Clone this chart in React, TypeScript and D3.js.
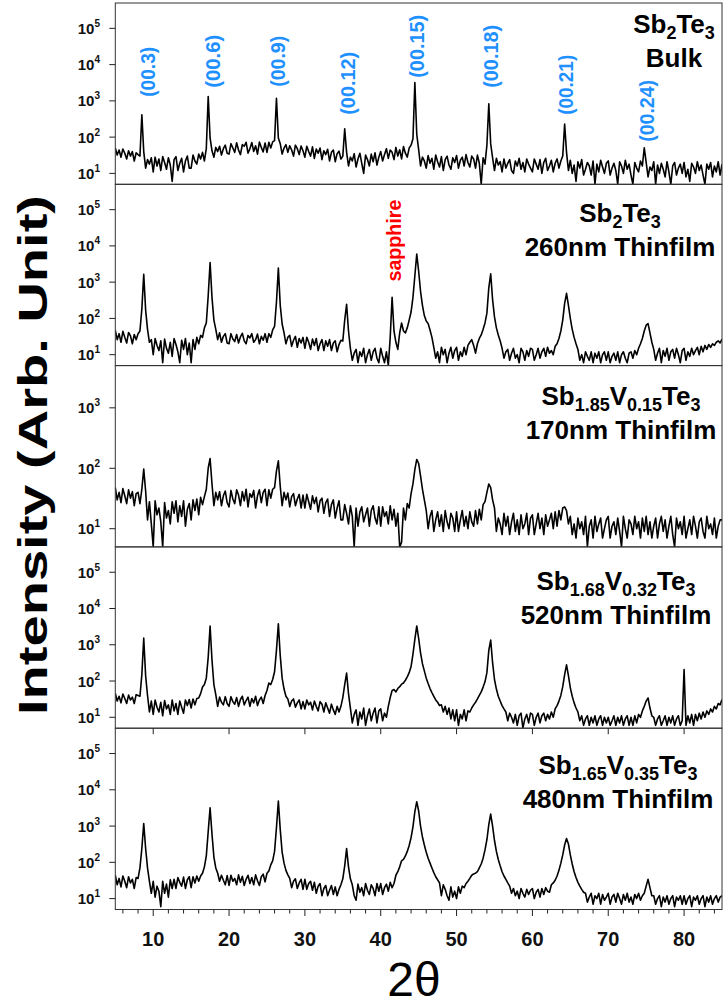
import React from "react";
import * as d3 from "d3";

// 2θ sampling grid (degrees): 5 .. 85 in 0.25 steps
const twoTheta: number[] = d3.range(0, 321).map((i) => 5 + i * 0.25);

// Intensities (counts), one row = 5 degrees.
const bulk: number[] = [
  50, 32, 44, 28, 47, 36, 25, 42, 30, 40, 22, 37, 33, 30, 410, 40, 14, 24, 18, 27,
  11, 28, 16, 25, 12, 29, 20, 13, 27, 17, 6, 24, 29, 12, 19, 26, 11, 22, 30, 14,
  14, 32, 22, 18, 34, 25, 38, 22, 48, 1320, 95, 42, 28, 52, 40, 56, 32, 48, 60, 36,
  34, 66, 50, 38, 70, 44, 33, 62, 56, 72, 36, 48, 71, 40, 58, 34, 73, 52, 39, 69,
  38, 72, 50, 74, 80, 1180, 95, 66, 34, 50, 62, 38, 58, 44, 30, 60, 48, 33, 57, 42,
  28, 56, 40, 30, 54, 26, 47, 36, 50, 24, 42, 33, 46, 22, 38, 44, 21, 35, 41, 25,
  30, 170, 38, 16, 28, 22, 35, 15, 25, 36, 19, 10, 32, 24, 16, 34, 21, 37, 17, 28,
  40, 22, 33, 48, 26, 44, 38, 24, 52, 30, 45, 25, 55, 36, 28, 50, 60, 90, 3200, 120,
  45, 16, 28, 22, 14, 31, 19, 26, 13, 32, 21, 15, 29, 12, 24, 30, 17, 13, 27, 20,
  31, 14, 23, 28, 16, 33, 20, 15, 30, 25, 14, 32, 19, 5, 27, 18, 60, 830, 65, 27,
  12, 26, 17, 21, 11, 25, 14, 19, 24, 12, 10, 22, 16, 26, 13, 20, 11, 25, 18, 14,
  11, 25, 18, 13, 24, 10, 20, 26, 12, 16, 23, 11, 19, 25, 14, 22, 30, 230, 38, 12,
  23, 10, 17, 6, 21, 14, 24, 9, 13, 20, 16, 9, 22, 5, 18, 11, 23, 15, 10, 19,
  22, 9, 14, 19, 12, 5, 21, 16, 10, 23, 13, 18, 9, 5, 20, 14, 11, 22, 16, 51,
  20, 8, 15, 12, 21, 5, 17, 10, 19, 13, 8, 21, 11, 5, 16, 20, 9, 14, 18, 10,
  20, 8, 13, 6, 19, 15, 10, 21, 12, 17, 9, 5, 18, 13, 20, 8, 16, 11, 21, 9,
  18,
];

const film260: number[] = [
  47, 26, 38, 22, 44, 30, 21, 41, 33, 20, 36, 26, 38, 45, 180, 1660, 170, 50, 22, 26,
  10, 28, 18, 13, 24, 6, 27, 15, 11, 22, 9, 28, 19, 12, 6, 25, 14, 28, 10, 21,
  6, 26, 14, 30, 20, 34, 30, 55, 75, 420, 3500, 380, 90, 50, 26, 40, 22, 32, 38, 21,
  20, 38, 27, 23, 36, 21, 31, 39, 24, 20, 34, 29, 38, 22, 26, 37, 20, 32, 25, 38,
  22, 38, 30, 48, 60, 280, 2450, 230, 70, 40, 20, 30, 34, 17, 25, 32, 16, 28, 21, 30,
  15, 30, 22, 14, 27, 18, 28, 13, 20, 26, 13, 24, 17, 26, 13, 21, 24, 12, 19, 25,
  24, 90, 245, 45, 15, 7, 11, 14, 6, 12, 9, 15, 6, 10, 14, 7, 12, 15, 8, 6,
  15, 9, 6, 12, 5, 30, 380, 45, 22, 14, 40, 75, 45, 40, 55, 90, 150, 380, 1500, 6000,
  2000, 560, 230, 120, 85, 72, 48, 30, 16, 8, 12, 6, 16, 10, 14, 6, 11, 16, 8, 13,
  16, 7, 12, 9, 16, 10, 18, 22, 26, 18, 11, 20, 28, 35, 50, 75, 140, 700, 1700, 330,
  110, 55, 35, 24, 15, 8, 12, 14, 7, 11, 15, 8, 10, 6, 15, 12, 7, 13, 9, 15,
  14, 7, 10, 15, 8, 12, 15, 9, 16, 11, 13, 10, 17, 20, 28, 45, 90, 260, 490, 230,
  100, 50, 30, 20, 14, 7, 10, 6, 12, 9, 7, 12, 6, 11, 8, 12, 6, 10, 12, 7,
  12, 6, 9, 11, 7, 12, 6, 10, 12, 8, 6, 11, 12, 8, 13, 10, 15, 20, 28, 45,
  65, 72, 40, 22, 14, 7, 11, 15, 6, 13, 9, 15, 7, 12, 14, 8, 15, 10, 6, 13,
  15, 7, 12, 9, 15, 10, 13, 16, 10, 17, 12, 18, 14, 19, 16, 20, 18, 22, 24, 21,
  27,
];

const v015: number[] = [
  48, 30, 40, 27, 46, 35, 26, 44, 32, 41, 24, 38, 40, 26, 45, 97, 42, 14, 28, 12,
  5, 29, 17, 22, 13, 5, 27, 15, 20, 12, 28, 18, 29, 13, 24, 16, 29, 11, 21, 26,
  14, 30, 20, 31, 17, 33, 25, 34, 45, 100, 145, 55, 24, 40, 30, 41, 24, 35, 42, 27,
  23, 43, 31, 26, 44, 36, 24, 41, 29, 45, 23, 38, 33, 43, 22, 35, 44, 27, 40, 45,
  24, 44, 32, 45, 48, 90, 133, 50, 24, 40, 30, 39, 23, 34, 38, 24, 31, 37, 22, 36,
  22, 37, 28, 21, 35, 26, 33, 19, 29, 32, 18, 27, 31, 16, 25, 30, 15, 22, 29, 14,
  14, 25, 18, 12, 24, 16, 5, 22, 11, 19, 23, 13, 17, 22, 11, 20, 24, 15, 12, 23,
  11, 23, 16, 19, 12, 24, 14, 21, 11, 18, 5, 6, 22, 14, 26, 22, 38, 55, 95, 140,
  120, 75, 45, 30, 20, 10, 16, 20, 9, 14, 19, 11, 17, 9, 20, 13, 10, 18, 15, 9,
  19, 9, 14, 20, 11, 16, 10, 19, 13, 11, 20, 12, 21, 14, 25, 28, 40, 55, 48, 30,
  22, 9, 15, 12, 8, 18, 11, 16, 8, 13, 18, 9, 14, 8, 17, 10, 12, 18, 8, 15,
  17, 8, 12, 18, 10, 15, 8, 17, 11, 14, 18, 10, 19, 11, 20, 14, 22, 23, 20, 12,
  16, 8, 12, 7, 15, 10, 13, 8, 16, 5, 11, 14, 7, 16, 9, 12, 15, 7, 10, 14,
  16, 7, 11, 13, 8, 15, 9, 5, 16, 10, 7, 14, 12, 8, 16, 10, 13, 7, 15, 9,
  16, 8, 13, 7, 11, 15, 7, 12, 16, 9, 14, 7, 11, 16, 8, 5, 15, 10, 13, 8,
  16, 7, 10, 14, 8, 16, 11, 7, 13, 15, 9, 7, 16, 10, 12, 8, 15, 7, 11, 14,
  14,
];

const v032: number[] = [
  46, 28, 38, 25, 44, 33, 24, 41, 30, 36, 24, 42, 40, 38, 150, 1520, 140, 40, 14, 28,
  12, 30, 19, 14, 26, 11, 29, 17, 22, 12, 30, 15, 24, 12, 28, 19, 13, 30, 21, 31,
  18, 32, 22, 33, 34, 45, 68, 80, 120, 450, 3300, 380, 80, 42, 20, 36, 26, 22, 37, 24,
  20, 37, 27, 23, 35, 20, 31, 38, 22, 29, 36, 20, 33, 25, 38, 21, 30, 36, 24, 40,
  55, 88, 80, 110, 180, 700, 3800, 500, 120, 60, 38, 32, 20, 28, 32, 19, 25, 30, 17, 27,
  17, 30, 22, 26, 16, 28, 20, 15, 27, 23, 14, 25, 18, 13, 23, 16, 12, 20, 14, 20,
  35, 80, 165, 45, 18, 7, 12, 16, 6, 14, 9, 18, 6, 11, 17, 8, 13, 18, 7, 15,
  17, 8, 13, 10, 20, 35, 55, 58, 50, 62, 70, 82, 88, 105, 130, 170, 250, 550, 1400, 3300,
  1500, 600, 300, 190, 120, 85, 62, 48, 38, 30, 26, 21, 22, 14, 20, 12, 18, 9, 16, 8,
  16, 6, 12, 9, 16, 8, 15, 14, 18, 22, 26, 32, 40, 50, 68, 95, 170, 700, 1350, 320,
  110, 60, 38, 28, 21, 17, 14, 8, 13, 10, 7, 12, 6, 11, 13, 5, 9, 12, 7, 13,
  12, 6, 10, 13, 7, 11, 13, 8, 12, 9, 14, 10, 17, 21, 28, 40, 70, 150, 280, 140,
  65, 38, 25, 18, 14, 8, 11, 6, 9, 11, 6, 10, 7, 11, 6, 9, 11, 6, 10, 7,
  10, 6, 8, 11, 6, 10, 7, 11, 6, 9, 11, 6, 10, 6, 11, 7, 12, 10, 15, 20,
  28, 34, 18, 11, 10, 6, 9, 11, 6, 8, 11, 6, 10, 7, 11, 6, 9, 11, 6, 8,
  207, 6, 11, 7, 12, 6, 12, 8, 13, 9, 14, 10, 15, 12, 17, 14, 20, 17, 24, 22,
  31,
];

const v035: number[] = [
  44, 24, 36, 21, 42, 30, 20, 40, 27, 34, 19, 38, 36, 70, 240, 1180, 240, 70, 30, 14,
  30, 11, 22, 16, 6, 30, 14, 25, 11, 33, 19, 34, 19, 38, 28, 22, 39, 19, 33, 40,
  20, 40, 27, 42, 30, 42, 50, 75, 150, 700, 3200, 600, 140, 70, 50, 30, 44, 32, 24, 43,
  23, 44, 30, 36, 24, 45, 28, 41, 23, 34, 44, 26, 38, 24, 45, 31, 23, 40, 47, 29,
  50, 58, 85, 110, 200, 900, 4900, 800, 190, 95, 60, 45, 36, 20, 30, 35, 19, 27, 34, 18,
  34, 18, 26, 30, 17, 28, 14, 22, 26, 12, 19, 23, 12, 17, 23, 13, 21, 12, 18, 24,
  35, 80, 240, 75, 35, 24, 12, 9, 25, 15, 20, 12, 26, 17, 13, 24, 19, 12, 26, 16,
  26, 13, 20, 25, 16, 28, 20, 26, 44, 55, 75, 110, 120, 150, 200, 290, 480, 950, 2500, 4700,
  2600, 1000, 500, 300, 190, 130, 95, 70, 52, 40, 33, 27, 12, 24, 18, 12, 9, 21, 11, 16,
  10, 21, 14, 22, 20, 26, 30, 36, 44, 48, 50, 55, 70, 90, 130, 220, 420, 1100, 2150, 1000,
  400, 200, 120, 80, 55, 42, 34, 27, 22, 14, 19, 12, 16, 10, 19, 14, 11, 18, 13, 17,
  19, 10, 15, 18, 11, 19, 13, 20, 16, 15, 24, 27, 32, 42, 60, 95, 160, 300, 455, 320,
  160, 90, 55, 38, 28, 22, 18, 15, 14, 8, 11, 14, 7, 12, 10, 14, 7, 13, 9, 11,
  14, 7, 11, 13, 8, 14, 10, 7, 13, 9, 14, 8, 11, 7, 13, 10, 14, 9, 12, 14,
  22, 34, 20, 12, 12, 7, 10, 12, 6, 11, 8, 12, 7, 10, 12, 6, 11, 9, 12, 7,
  12, 7, 10, 12, 6, 11, 9, 12, 7, 10, 12, 6, 11, 8, 12, 7, 10, 12, 8, 11,
  12,
];

// Axis ticks
const xMajorTicks: number[] = [10, 20, 30, 40, 50, 60, 70, 80];
const xMinorTicks: number[] = [6, 8, 12, 14, 16, 18, 22, 24, 26, 28, 32, 34, 36, 38, 42, 44, 46, 48, 52, 54, 56, 58, 62, 64, 66, 68, 72, 74, 76, 78, 82, 84];
const decadesWide: number[] = [1, 2, 3, 4, 5];
const decadesNarrow: number[] = [1, 2, 3];

// Miller index annotations (label text, 2θ of label centre, intensity at label start)
const millerLabels: string[] = ["(00.3)", "(00.6)", "(00.9)", "(00.12)", "(00.15)", "(00.18)", "(00.21)", "(00.24)"];
const millerTheta: number[] = [9.19, 17.77, 26.36, 35.6, 44.72, 54.5, 64.3, 75.1];
const millerAt: number[] = [1295, 2290, 2440, 413, 4330, 2290, 413, 74];

const sapphireTheta = 41.76;
const sapphireAt = 1040;

type Part = { t: string; sub?: boolean };

const FONT = "'Liberation Sans', Arial, Helvetica, sans-serif";
const W = 723;
const H = 1005;
const plotLeft = 115.3;
const plotRight = 722;
const plotTop = 3;
const panelH = 181.3;
// rendered lengths of the rotated annotation strings (layout)
const millerTextLen: number[] = [50, 53, 51, 63, 63, 63, 60, 62];
const sapphireTextLen = 82;

const panels: {
  data: number[];
  yMax: number;
  exps: number[];
  name: Part[];
  desc: string;
  cx: number;
  by: number;
}[] = [
  { data: bulk, yMax: 5e5, exps: decadesWide, name: [{ t: "Sb" }, { t: "2", sub: true }, { t: "Te" }, { t: "3", sub: true }], desc: "Bulk", cx: 674, by: 30 },
  { data: film260, yMax: 5e5, exps: decadesWide, name: [{ t: "Sb" }, { t: "2", sub: true }, { t: "Te" }, { t: "3", sub: true }], desc: "260nm Thinfilm", cx: 620, by: 37.5 },
  { data: v015, yMax: 5e3, exps: decadesNarrow, name: [{ t: "Sb" }, { t: "1.85", sub: true }, { t: "V" }, { t: "0.15", sub: true }, { t: "Te" }, { t: "3", sub: true }], desc: "170nm Thinfilm", cx: 621, by: 39 },
  { data: v032, yMax: 5e5, exps: decadesWide, name: [{ t: "Sb" }, { t: "1.68", sub: true }, { t: "V" }, { t: "0.32", sub: true }, { t: "Te" }, { t: "3", sub: true }], desc: "520nm Thinfilm", cx: 616, by: 43.5 },
  { data: v035, yMax: 5e5, exps: decadesWide, name: [{ t: "Sb" }, { t: "1.65", sub: true }, { t: "V" }, { t: "0.35", sub: true }, { t: "Te" }, { t: "3", sub: true }], desc: "480nm Thinfilm", cx: 618, by: 45.5 },
];

export default function App() {
  const x = d3.scaleLinear().domain([5, 85]).range([plotLeft, plotRight]);
  const bottomAll = plotTop + panelH * panels.length;

  return (
    <svg
      width={W}
      height={H}
      viewBox={`0 0 ${W} ${H}`}
      style={{ position: "absolute", left: 0, top: 0, display: "block", background: "#fff" }}
      fontFamily={FONT}
    >
      <rect x={0} y={0} width={W} height={H} fill="#fff" />
      <defs>
        {panels.map((p, i) => (
          <clipPath id={`clip${i}`} key={i}>
            <rect x={plotLeft} y={plotTop + i * panelH} width={plotRight - plotLeft} height={panelH} />
          </clipPath>
        ))}
      </defs>

      {panels.map((p, i) => {
        const top = plotTop + i * panelH;
        const bottom = top + panelH;
        const y = d3.scaleLog().domain([5, p.yMax]).range([bottom, top]);
        const line = d3
          .line<number>()
          .x((_, k) => x(twoTheta[k]))
          .y((d) => y(d));
        const y1 = top + p.by;
        return (
          <g key={i}>
            <path
              d={line(p.data) || ""}
              fill="none"
              stroke="#000"
              strokeWidth={1.6}
              strokeLinejoin="round"
              clipPath={`url(#clip${i})`}
            />
            {/* y ticks */}
            {p.exps.map((e) => {
              const ty = y(Math.pow(10, e));
              return (
                <g key={e}>
                  <line x1={plotLeft - 6} x2={plotLeft} y1={ty} y2={ty} stroke="#222" strokeWidth={1} />
                  <text x={100} y={ty + 5.5} textAnchor="end" fontSize={15} fontWeight="bold" fill="#111">
                    10
                    <tspan fontSize={10} dy={-7}>
                      {e}
                    </tspan>
                  </text>
                </g>
              );
            })}
            {/* sample name */}
            <text x={p.cx} y={y1} textAnchor="middle" fontSize={26} fontWeight="bold" fill="#000">
              {p.name.map((part, k) => {
                const prevSub = k > 0 && p.name[k - 1].sub;
                const dy = part.sub ? 6 : prevSub ? -6 : 0;
                return (
                  <tspan key={k} fontSize={part.sub ? 18 : 26} dy={dy}>
                    {part.t}
                  </tspan>
                );
              })}
            </text>
            <text x={p.cx} y={y1 + 34} textAnchor="middle" fontSize={26} fontWeight="bold" fill="#000">
              {p.desc}
            </text>
            {/* panel frame */}
            <rect x={plotLeft} y={top} width={plotRight - plotLeft} height={panelH} fill="none" stroke="#333" strokeWidth={1} />
            {/* Miller labels on bulk panel */}
            {i === 0 &&
              millerLabels.map((lab, k) => (
                <text
                  key={lab}
                  transform={`translate(${x(millerTheta[k])},${y(millerAt[k])}) rotate(-90)`}
                  textAnchor="start"
                  dominantBaseline="central"
                  fontSize={21}
                  fontWeight="bold"
                  textLength={millerTextLen[k]}
                  lengthAdjust="spacingAndGlyphs"
                  fill="#1E90FF"
                >
                  {lab}
                </text>
              ))}
            {i === 1 && (
              <text
                transform={`translate(${x(sapphireTheta)},${y(sapphireAt)}) rotate(-90)`}
                textAnchor="start"
                dominantBaseline="central"
                fontSize={20}
                fontWeight="bold"
                textLength={sapphireTextLen}
                lengthAdjust="spacingAndGlyphs"
                fill="#FF0000"
              >
                sapphire
              </text>
            )}
            {/* top ticks for bottom panel */}
            {i === panels.length - 1 &&
              xMajorTicks.map((t) => (
                <line key={t} x1={x(t)} x2={x(t)} y1={top} y2={top + 6} stroke="#222" strokeWidth={1} />
              ))}
          </g>
        );
      })}

      {/* x axis */}
      {xMajorTicks.map((t) => (
        <g key={t}>
          <line x1={x(t)} x2={x(t)} y1={bottomAll} y2={bottomAll + 6.5} stroke="#222" strokeWidth={1} />
          <text x={x(t)} y={bottomAll + 36} textAnchor="middle" fontSize={20} fontWeight="bold" fill="#111">
            {t}
          </text>
        </g>
      ))}
      {xMinorTicks.map((t) => (
        <line key={t} x1={x(t)} x2={x(t)} y1={bottomAll} y2={bottomAll + 4} stroke="#222" strokeWidth={1} />
      ))}

      <text x={414} y={996} textAnchor="middle" fontSize={48} fill="#000">
        2θ
      </text>
      <text
        transform="translate(47,455) rotate(-90)"
        textAnchor="middle"
        fontSize={40}
        fontWeight="bold"
        textLength={520}
        lengthAdjust="spacingAndGlyphs"
        fill="#000"
      >
        Intensity (Arb. Unit)
      </text>
    </svg>
  );
}
